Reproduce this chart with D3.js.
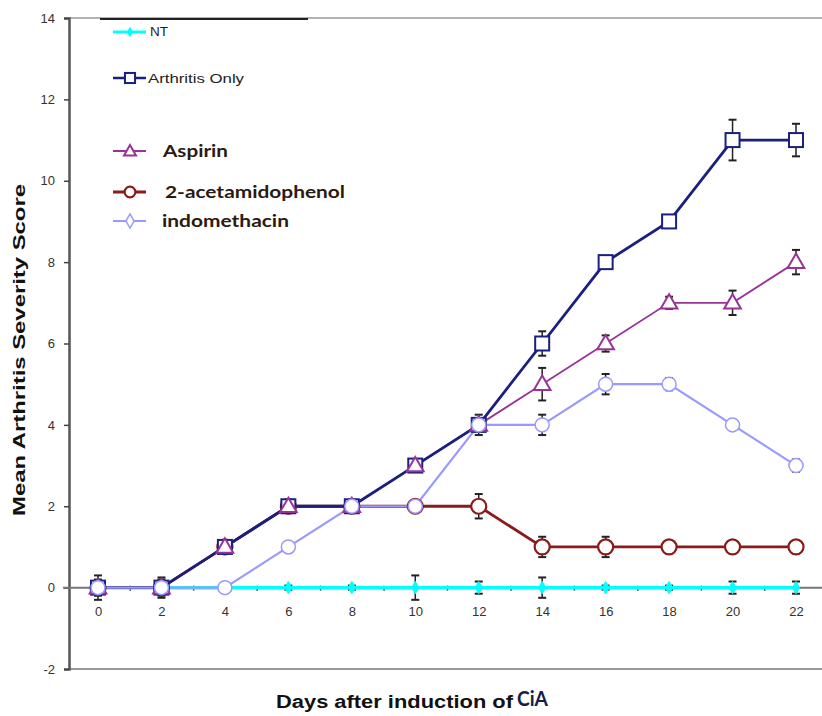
<!DOCTYPE html>
<html><head><meta charset="utf-8">
<script src="https://cdn.jsdelivr.net/npm/d3@7"></script>
<style>body{margin:0;background:#fff}svg{display:block}</style>
</head><body>
<svg id="c" width="822" height="716"></svg>
<script>
const days = [0,2,4,6,8,10,12,14,16,18,20,22];
const yTicks = [-2,0,2,4,6,8,10,12,14];
const xTickLabels = ["0","2","4","6","8","10","12","14","16","18","20","22"];
const ntVals   = [0,0,0,0,0,0,0,0,0,0,0,0];
const ntErr    = [0.3,0.25,0.05,0.05,0.05,0.3,0.15,0.25,0.05,0.05,0.15,0.15];
const arthVals = [0,0,1,2,2,3,4,6,8,9,11,11];
const arthErr  = [0,0.05,0,0,0,0,0.25,0.3,0.15,0,0.5,0.4];
const aspVals  = [0,0,1,2,2,3,4,5,6,7,7,8];
const aspErr   = [0.2,0.2,0,0,0,0,0,0.4,0.2,0.15,0.3,0.3];
const acetVals = [0,0,1,2,2,2,2,1,1,1,1,1];
const acetErr  = [0,0,0,0,0,0,0.3,0.25,0.25,0,0,0];
const indoVals = [0,0,0,1,2,2,4,4,5,5,4,3];
const indoErr  = [0,0,0,0,0,0,0,0.25,0.25,0.15,0,0.15];
const names = ["NT","Arthritis Only","Aspirin","2-acetamidophenol","indomethacin"];

const svg = d3.select("#c");
const x = d3.scaleLinear().domain([0,22]).range([98,796]);
const y = d3.scaleLinear().domain([-2,14]).range([669,18]);
const axX = 69, rightX = 822;

// frame lines
svg.append("line").attr("x1",axX).attr("x2",rightX).attr("y1",y(14)).attr("y2",y(14)).attr("stroke","#999").attr("stroke-width",1.5);
svg.append("line").attr("x1",100).attr("x2",308).attr("y1",y(14)+1).attr("y2",y(14)+1).attr("stroke","#222").attr("stroke-width",2);
svg.append("line").attr("x1",axX).attr("x2",rightX).attr("y1",y(-2)).attr("y2",y(-2)).attr("stroke","#999").attr("stroke-width",2);

// y axis
const ya = svg.append("g").attr("transform",`translate(${axX},0)`)
  .call(d3.axisLeft(y).tickValues(yTicks).tickSize(5).tickPadding(9).tickFormat(d=>String(d)));
ya.select(".domain").attr("stroke","#555").attr("stroke-width",2.5);
ya.selectAll(".tick line").attr("stroke","#444").attr("stroke-width",1.5);
ya.selectAll("text").attr("font-family","Liberation Sans, Arial").attr("font-size",13).attr("fill","#333");

// zero line with ticks
const xa = svg.append("g").attr("transform",`translate(0,${y(0)})`)
  .call(d3.axisBottom(x).tickValues(d3.range(0,23,1)).tickSize(3).tickPadding(16)
    .tickFormat(d=> d%2===0 ? xTickLabels[d/2] : ""));
xa.select(".domain").remove();
xa.selectAll(".tick line").attr("stroke","#333").attr("stroke-width",1.5).attr("y1",-2);
xa.selectAll("text").attr("font-family","Liberation Sans, Arial").attr("font-size",13).attr("fill","#333");
svg.append("line").attr("x1",axX-6).attr("x2",rightX).attr("y1",y(0)).attr("y2",y(0)).attr("stroke","#777").attr("stroke-width",2);

// series config
const S = {
 nt:  {v:ntVals, e:ntErr, color:"#00ffff", w:3.5, shape:"ntdiamond"},
 asp: {v:aspVals, e:aspErr, color:"#993399", w:1.8, shape:"triangle"},
 arth:{v:arthVals, e:arthErr, color:"#1a1f80", w:2.8, shape:"square"},
 acet:{v:acetVals, e:acetErr, color:"#8b1a1a", w:2.8, shape:"circle"},
 indo:{v:indoVals, e:indoErr, color:"#9999ff", w:2.2, shape:"lcircle"}
};
const lineOrder = ["nt","asp","acet","arth","indo"];
const markerOrder = ["nt","acet","arth","asp","indo"];

function drawMarker(g, shape, color, cx, cy, scale){
  scale = scale||1;
  if(shape==="square") g.append("rect").attr("x",cx-7*scale).attr("y",cy-7*scale).attr("width",14*scale).attr("height",14*scale).attr("fill","#fff").attr("stroke",color).attr("stroke-width",2);
  else if(shape==="triangle") g.append("path").attr("d",d3.symbol(d3.symbolTriangle, 120*scale*scale)()).attr("transform",`translate(${cx},${cy+1})`).attr("fill","#fff").attr("stroke",color).attr("stroke-width",2);
  else if(shape==="circle") g.append("circle").attr("cx",cx).attr("cy",cy).attr("r",7.5*scale).attr("fill","#fff").attr("stroke",color).attr("stroke-width",2.2);
  else if(shape==="lcircle") g.append("circle").attr("cx",cx).attr("cy",cy).attr("r",7*scale).attr("fill","#fff").attr("stroke",color).attr("stroke-width",1.5);
  else if(shape==="diamond") g.append("path").attr("d",d3.symbol(d3.symbolDiamond, 110*scale*scale)()).attr("transform",`translate(${cx},${cy})`).attr("fill","#fff").attr("stroke",color).attr("stroke-width",1.5);
  else if(shape==="ntdiamond") g.append("path").attr("d",d3.symbol(d3.symbolDiamond, 45*scale*scale)()).attr("transform",`translate(${cx},${cy})`).attr("fill",color).attr("stroke",color);
}

// error bars
const eg = svg.append("g");
Object.values(S).forEach(s=>{
  s.v.forEach((v,i)=>{
    const e=s.e[i]; if(!e) return;
    const cx=x(days[i]), y1=y(v+e), y2=y(v-e);
    eg.append("line").attr("x1",cx).attr("x2",cx).attr("y1",y1).attr("y2",y2).attr("stroke","#222").attr("stroke-width",1.5);
    [y1,y2].forEach(yy=>eg.append("line").attr("x1",cx-4).attr("x2",cx+4).attr("y1",yy).attr("y2",yy).attr("stroke","#222").attr("stroke-width",2));
  });
});

const line = d3.line().x((d,i)=>x(days[i])).y(d=>y(d));
const lg = svg.append("g");
lineOrder.forEach(k=>{
  const s=S[k];
  lg.append("path").attr("d",line(s.v)).attr("fill","none").attr("stroke",s.color).attr("stroke-width",s.w);
});
const mg = svg.append("g");
markerOrder.forEach(k=>{
  const s=S[k];
  s.v.forEach((v,i)=>drawMarker(mg,s.shape,s.color,x(days[i]),y(v)));
});

// legend
const leg = [
 {name:names[0], color:"#00ffff", w:3, shape:"ntdiamond", y:32, tx:150, fs:12, bold:false, tl:18},
 {name:names[1], color:"#1a1f80", w:2.5, shape:"square", y:78, tx:148, fs:13, bold:false, tl:96},
 {name:names[2], color:"#993399", w:1.8, shape:"triangle", y:151, tx:163, fs:17, bold:true, tl:65},
 {name:names[3], color:"#8b1a1a", w:2.8, shape:"circle", y:192, tx:165, fs:17, bold:true, tl:180},
 {name:names[4], color:"#9999ff", w:2.2, shape:"diamond", y:221, tx:162, fs:17, bold:true, tl:127}
];
leg.forEach(l=>{
  const g=svg.append("g");
  g.append("line").attr("x1",113).attr("x2",146).attr("y1",l.y).attr("y2",l.y).attr("stroke",l.color).attr("stroke-width",l.w);
  drawMarker(g,l.shape,l.color,130,l.y,0.72);
  g.append("text").attr("x",l.tx).attr("y",l.y).attr("dy","0.35em").text(l.name)
    .attr("font-family", l.bold ? "Lato, Open Sans, sans-serif" : "Liberation Sans, Arial")
    .attr("font-weight", l.bold?"bold":"normal").attr("font-size",l.fs).attr("fill", l.bold?"#2a1a10":"#222")
    .attr("textLength",l.tl).attr("lengthAdjust","spacingAndGlyphs");
});

// axis titles
svg.append("text").attr("transform","translate(25,350) rotate(-90)").attr("text-anchor","middle")
  .attr("font-family","Liberation Sans, Arial").attr("font-weight","bold").attr("font-size",16).attr("fill","#111")
  .attr("textLength",332).attr("lengthAdjust","spacingAndGlyphs").text("Mean Arthritis Severity Score");
svg.append("text").attr("x",276).attr("y",708).attr("font-family","Liberation Sans, Arial").attr("font-weight","bold").attr("font-size",18).attr("fill","#111")
  .attr("textLength",237).attr("lengthAdjust","spacingAndGlyphs").text("Days after induction of");
svg.append("text").attr("x",517).attr("y",706).attr("font-family","Lato, sans-serif").attr("font-weight","bold").attr("font-size",20).attr("fill","#14204a")
  .attr("textLength",31).attr("lengthAdjust","spacingAndGlyphs").text("CiA");
</script>
</body></html>
